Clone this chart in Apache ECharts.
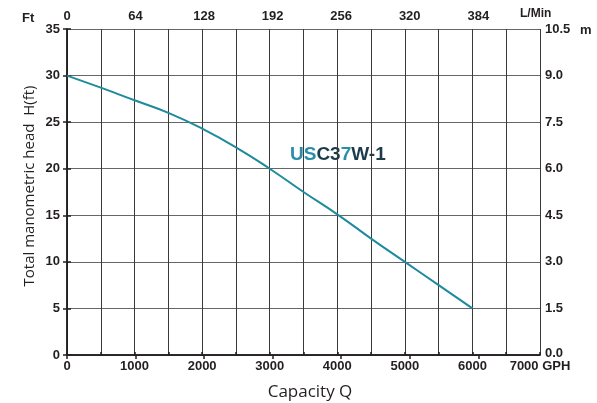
<!DOCTYPE html>
<html><head><meta charset="utf-8">
<script src="https://cdn.jsdelivr.net/npm/echarts@6/dist/echarts.min.js"></script>
<style>html,body{margin:0;padding:0;background:#fff}#c{width:597px;height:403px}</style>
</head><body><div id="c"></div>
<script>
var flowGPH = [0, 500, 1000, 1500, 2000, 2500, 3000, 3500, 4000, 4500, 5000, 5500, 6000];
var headFt  = [30, 28.7, 27.35, 26.0, 24.3, 22.3, 20.0, 17.5, 15.1, 12.5, 10.0, 7.5, 5.0];
var gphTicks = [0, 1000, 2000, 3000, 4000, 5000, 6000, 7000];
var lpmTicks = [0, 64, 128, 192, 256, 320, 384];
var ftTicks = [0, 5, 10, 15, 20, 25, 30, 35];
var mTicks = [0, 1.5, 3, 4.5, 6, 7.5, 9, 10.5];
var modelParts = ['US', 'C3', '7', 'W-1'];

var LPM_MAX = 7000 * 3.78541 / 60;
var lbl = {color:'#231f20', fontFamily:'Liberation Sans, Arial, sans-serif', fontWeight:'bold', fontSize:13};
var chart = echarts.init(document.getElementById('c'));
var data = flowGPH.map(function(x,i){return [x, headFt[i]];});
chart.setOption({
  animation:false,
  grid:{left:67, right:57, top:29, bottom:48},
  xAxis:[{
    type:'value', position:'bottom', min:0, max:7000, interval:500,
    axisLine:{show:true, lineStyle:{color:'#231f20', width:1.5}},
    axisTick:{show:true, inside:true, length:3, lineStyle:{color:'#231f20', width:1.5}},
    splitLine:{show:true, lineStyle:{color:'#3a3a3a', width:1}},
    axisLabel:Object.assign({}, lbl, {margin:5, formatter:function(v){
      if (gphTicks.indexOf(v) < 0) return '';
      return v === 7000 ? v + ' GPH' : String(v);
    }})
  },{
    type:'value', position:'top', min:0, max:LPM_MAX, interval:64,
    axisLine:{show:true, lineStyle:{color:'#231f20', width:1.5}},
    axisTick:{show:true, inside:true, length:4, lineStyle:{color:'#231f20', width:1.5}},
    splitLine:{show:false},
    axisLabel:Object.assign({}, lbl, {margin:6, showMaxLabel:false, formatter:function(v){
      return lpmTicks.indexOf(v) >= 0 ? String(v) : '';
    }})
  }],
  yAxis:[{
    type:'value', position:'left', min:0, max:35, interval:5,
    axisLine:{show:true, lineStyle:{color:'#231f20', width:1.5}},
    axisTick:{show:true, inside:true, length:4, lineStyle:{color:'#231f20', width:1.5}},
    splitLine:{show:true, lineStyle:{color:'#666', width:1}},
    axisLabel:Object.assign({}, lbl, {margin:7, formatter:function(v){
      return ftTicks.indexOf(v) >= 0 ? String(v) : '';
    }})
  },{
    type:'value', position:'right', min:0, max:10.5, interval:1.5,
    axisLine:{show:true, lineStyle:{color:'#231f20', width:1.5}},
    axisTick:{show:true, inside:true, length:4, lineStyle:{color:'#231f20', width:1.5}},
    splitLine:{show:false},
    axisLabel:Object.assign({}, lbl, {margin:5, formatter:function(v){
      var hit = mTicks.some(function(t){return Math.abs(t-v)<1e-6;});
      if (!hit) return '';
      return v === 0 ? '{z|0.0}' : v.toFixed(1);
    }, rich:{z:{color:'#231f20', fontFamily:'Liberation Sans, Arial, sans-serif', fontWeight:'bold', fontSize:13, padding:[0,0,4,0]}}})
  }],
  series:[{
    type:'line', xAxisIndex:0, yAxisIndex:0, smooth:true, showSymbol:false,
    data:data, lineStyle:{color:'#1e8a9c', width:2}, itemStyle:{color:'#1e8a9c'}
  }],
  graphic:[
    {type:'text', left:22, top:12, style:{text:'Ft', fill:'#231f20', font:'bold 13px Liberation Sans, Arial, sans-serif'}},
    {type:'text', left:520, top:8, style:{text:'L/Min', fill:'#231f20', font:'bold 12px Liberation Sans, Arial, sans-serif'}},
    {type:'text', left:580, top:24, style:{text:'m', fill:'#231f20', font:'bold 13px Liberation Sans, Arial, sans-serif'}},
    {type:'text', x:30, y:186, rotation:Math.PI/2, style:{
      text:'Total manometric head  H(ft)', fill:'#231f20', textAlign:'center', textVerticalAlign:'middle',
      font:'15px Open Sans, Noto Sans, sans-serif'}},
    {type:'text', x:310, y:392, style:{
      text:'Capacity Q', fill:'#231f20', textAlign:'center', textVerticalAlign:'middle',
      font:'17px Open Sans, Noto Sans, sans-serif'}},
    {type:'text', left:290, top:145, style:{
      text:'{a|'+modelParts[0]+'}{b|'+modelParts[1]+'}{a|'+modelParts[2]+'}{b|'+modelParts[3]+'}',
      rich:{
        a:{fill:'#2a8ea8', font:'bold 19px Liberation Sans, Arial, sans-serif'},
        b:{fill:'#1d3c4a', font:'bold 19px Liberation Sans, Arial, sans-serif'}
      }
    }}
  ]
});
</script></body></html>
